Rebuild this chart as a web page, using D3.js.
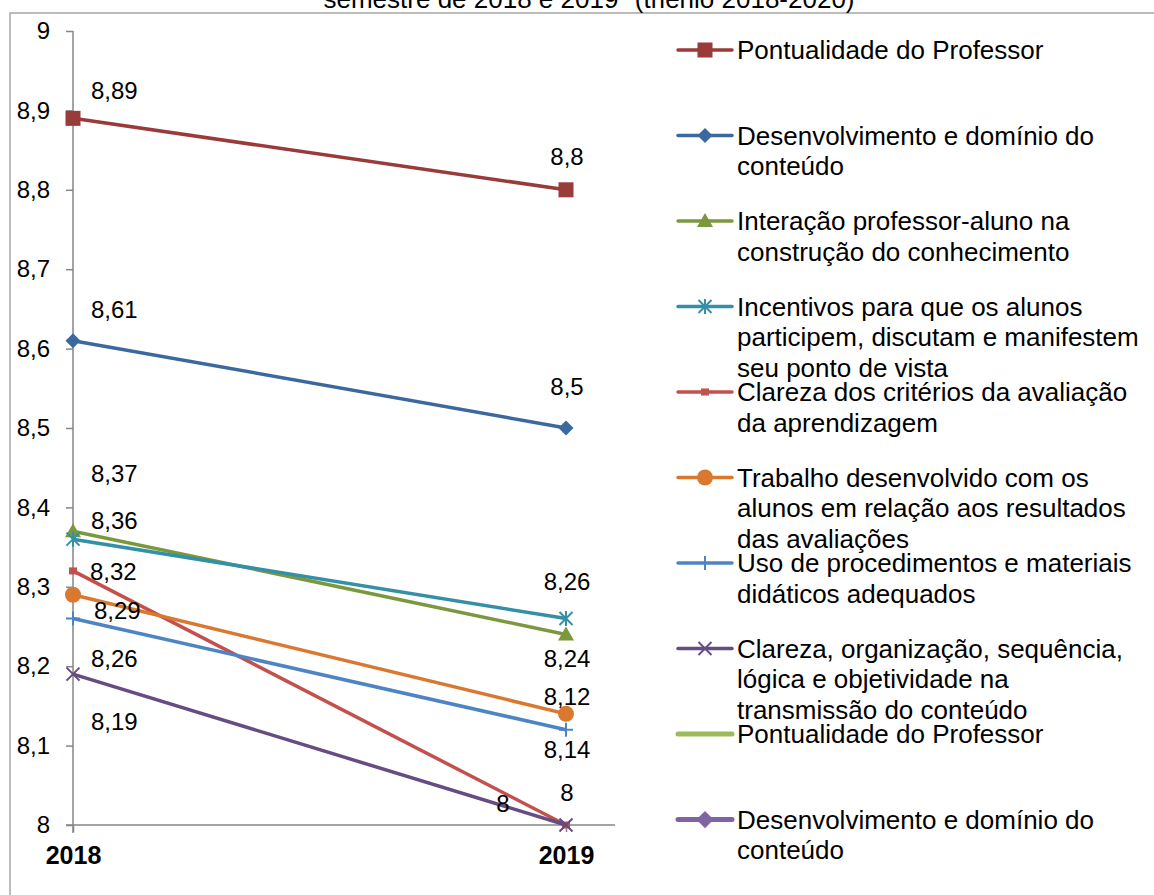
<!DOCTYPE html>
<html>
<head>
<meta charset="utf-8">
<script src="https://cdn.jsdelivr.net/npm/d3@7"></script>
<style>
  html, body { margin: 0; padding: 0; background: #fff; }
  svg { display: block; font-family: "Liberation Sans", Arial, sans-serif; }
</style>
</head>
<body>
<svg id="chart" width="1154" height="895"></svg>
<script>
// ---------- data ----------
const categories = ["2018", "2019"];
const yTickValues = [8, 8.1, 8.2, 8.3, 8.4, 8.5, 8.6, 8.7, 8.8, 8.9, 9];
const titleText = 'semestre de 2018 e 2019" (triênio 2018-2020)';

const seriesNames = [
  ["Pontualidade do Professor"],
  ["Desenvolvimento e domínio do", "conteúdo"],
  ["Interação professor-aluno na", "construção do conhecimento"],
  ["Incentivos para que os alunos", "participem, discutam e manifestem", "seu ponto de vista"],
  ["Clareza dos critérios da avaliação", "da aprendizagem"],
  ["Trabalho desenvolvido com os", "alunos em relação aos resultados", "das avaliações"],
  ["Uso de procedimentos e materiais", "didáticos adequados"],
  ["Clareza, organização, sequência,", "lógica e objetividade na", "transmissão do conteúdo"],
  ["Pontualidade do Professor"],
  ["Desenvolvimento e domínio do", "conteúdo"]
];

const pontualidade        = [8.89, 8.8];
const desenvolvimento     = [8.61, 8.5];
const interacao           = [8.37, 8.24];
const incentivos          = [8.36, 8.26];
const clarezaCriterios    = [8.32, 8.0];
const trabalho            = [8.29, 8.14];
const usoProcedimentos    = [8.26, 8.12];
const clarezaOrganizacao  = [8.19, 8.0];
const pontualidade2       = [];
const desenvolvimento2    = [];

const seriesValues = [pontualidade, desenvolvimento, interacao, incentivos,
  clarezaCriterios, trabalho, usoProcedimentos, clarezaOrganizacao,
  pontualidade2, desenvolvimento2];

// ---------- styles ----------
const colors = ["#993b39", "#3c68a0", "#7b983e", "#3490a6", "#c4504d",
                "#d9782f", "#4f84c4", "#654c82", "#9bbb59", "#8064a2"];
const markers = ["square", "diamond", "triangle", "asterisk", "smallsquare",
                 "circle", "plus", "x", "none", "diamond"];
const legendLineWidths = [3.5, 3.5, 3.5, 3.5, 3.5, 3.5, 3.5, 3.5, 5, 5];
// data label nudges in px [dx, dy] per series, per category (layout only)
const labelNudges = [
  [[18, -28], [1, -33]],
  [[18, -31], [1, -41]],
  [[18, -58], [1, 24]],
  [[18, -19], [1, -37]],
  [[17, 1],   [1, -32]],
  [[21, 16],  [1, 36]],
  [[18, 40],  [1, -33]],
  [[18, 47],  [-63, -21]],
  [], []
];

// ---------- layout ----------
const svg = d3.select("#chart");
const plot = { left: 73, right: 566, top: 31, bottom: 825 };

const x = d3.scalePoint().domain(categories).range([plot.left, plot.right]);
const y = d3.scaleLinear().domain([8, 9]).range([plot.bottom, plot.top]);
const fmt = v => String(Math.round(v * 100) / 100).replace(".", ",");

// outer frame
svg.append("rect")
  .attr("x", 10).attr("y", 13).attr("width", 1160).attr("height", 900)
  .attr("fill", "none").attr("stroke", "#a6a6a6").attr("stroke-width", 1.5);

// title
svg.append("text")
  .attr("x", 589).attr("y", 8)
  .attr("text-anchor", "middle")
  .attr("font-size", 26).attr("fill", "#000")
  .text(titleText);

// y axis
const yAxis = d3.axisLeft(y).tickValues(yTickValues).tickSize(7).tickPadding(16)
  .tickFormat(fmt);
const gy = svg.append("g").attr("transform", `translate(${plot.left},0)`).call(yAxis);
gy.select(".domain").remove();
gy.selectAll(".tick line").attr("stroke", "#868686").attr("stroke-width", 1.5);
gy.selectAll(".tick text").attr("font-size", 24).attr("fill", "#000")
  .attr("font-family", "Liberation Sans, Arial, sans-serif");
svg.append("line")
  .attr("x1", plot.left).attr("x2", plot.left)
  .attr("y1", plot.top).attr("y2", plot.bottom + 8)
  .attr("stroke", "#868686").attr("stroke-width", 1.5);

// x axis
const xAxis = d3.axisBottom(x).tickSize(7).tickPadding(14);
const gx = svg.append("g").attr("transform", `translate(0,${plot.bottom})`).call(xAxis);
gx.select(".domain").remove();
gx.selectAll(".tick line").attr("stroke", "#868686").attr("stroke-width", 1.5);
gx.selectAll(".tick text").attr("font-size", 25).attr("font-weight", "bold")
  .attr("fill", "#000").attr("font-family", "Liberation Sans, Arial, sans-serif");
svg.append("line")
  .attr("x1", plot.left - 7).attr("x2", 615)
  .attr("y1", plot.bottom).attr("y2", plot.bottom)
  .attr("stroke", "#868686").attr("stroke-width", 1.5);

// marker drawing
function drawMarker(g, type, color, cx, cy, scale) {
  const s = (scale || 1);
  if (type === "square") {
    const h = 7.5 * s;
    g.append("rect").attr("x", cx - h).attr("y", cy - h).attr("width", 2 * h).attr("height", 2 * h)
      .attr("fill", color);
  } else if (type === "smallsquare") {
    g.append("rect").attr("x", cx - 4 * s).attr("y", cy - 3.5 * s).attr("width", 8 * s).attr("height", 7 * s)
      .attr("fill", color);
  } else if (type === "diamond") {
    const h = 7.5 * s;
    g.append("path").attr("d", `M${cx},${cy - h}L${cx + h},${cy}L${cx},${cy + h}L${cx - h},${cy}Z`)
      .attr("fill", color);
  } else if (type === "triangle") {
    const h = 8 * s;
    g.append("path").attr("d", `M${cx},${cy - h}L${cx + h},${cy + h * 0.75}L${cx - h},${cy + h * 0.75}Z`)
      .attr("fill", color);
  } else if (type === "circle") {
    g.append("circle").attr("cx", cx).attr("cy", cy).attr("r", 8 * s).attr("fill", color);
  } else if (type === "plus") {
    const h = 7 * s;
    g.append("path").attr("d", `M${cx - h},${cy}H${cx + h}M${cx},${cy - h}V${cx ? cy + h : 0}`)
      .attr("stroke", color).attr("stroke-width", 2).attr("fill", "none");
  } else if (type === "x") {
    const h = 6.5 * s;
    g.append("path").attr("d", `M${cx - h},${cy - h}L${cx + h},${cy + h}M${cx - h},${cy + h}L${cx + h},${cy - h}`)
      .attr("stroke", color).attr("stroke-width", 2).attr("fill", "none");
  } else if (type === "asterisk") {
    const h = 6.5 * s;
    g.append("path").attr("d", `M${cx - h},${cy - h}L${cx + h},${cy + h}M${cx - h},${cy + h}L${cx + h},${cy - h}M${cx},${cy - h - 1}V${cy + h + 1}`)
      .attr("stroke", color).attr("stroke-width", 2).attr("fill", "none");
  }
}

// series lines + markers
const line = d3.line().x((d, i) => x(categories[i])).y(d => y(d));
const gSeries = svg.append("g");
seriesValues.forEach((vals, si) => {
  if (!vals.length) return;
  const g = gSeries.append("g");
  g.append("path").attr("d", line(vals))
    .attr("fill", "none").attr("stroke", colors[si]).attr("stroke-width", 3.5)
    .attr("stroke-linejoin", "round");
  vals.forEach((v, i) => drawMarker(g, markers[si], colors[si], x(categories[i]), y(v), 1));
});

// data labels
const gLabels = svg.append("g");
seriesValues.forEach((vals, si) => {
  vals.forEach((v, i) => {
    const [dx, dy] = labelNudges[si][i];
    gLabels.append("text")
      .attr("x", x(categories[i]) + dx)
      .attr("y", y(v) + dy)
      .attr("dy", "0.35em")
      .attr("text-anchor", i === 0 ? "start" : "middle")
      .attr("font-size", 24).attr("fill", "#000")
      .text(fmt(v));
  });
});

// legend
const legend = svg.append("g");
const slot = 85.5, lineH = 30.7, legTop = 50;
seriesNames.forEach((lines, si) => {
  const cy = legTop + si * slot;
  const g = legend.append("g");
  g.append("line").attr("x1", 678).attr("x2", 732).attr("y1", cy).attr("y2", cy)
    .attr("stroke", colors[si]).attr("stroke-width", legendLineWidths[si])
    .attr("stroke-linecap", "round");
  drawMarker(g, markers[si], colors[si], 705, cy, si === 9 ? 1.15 : 1);
  const t = g.append("text").attr("x", 737).attr("y", cy).attr("dy", "0.35em")
    .attr("font-size", 26).attr("fill", "#000");
  lines.forEach((ln, k) => {
    t.append("tspan").attr("x", 737).attr("y", cy + k * lineH).attr("dy", "0.35em").text(ln);
  });
});
</script>
</body>
</html>
